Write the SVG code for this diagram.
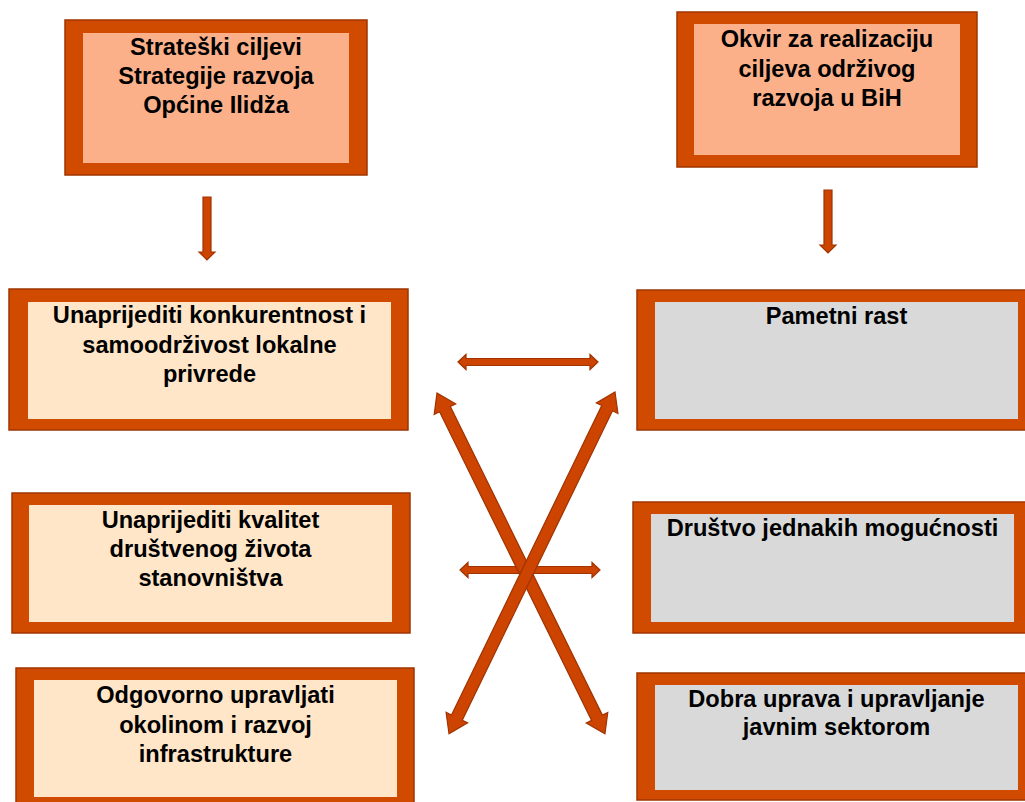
<svg xmlns="http://www.w3.org/2000/svg" width="1025" height="802" viewBox="0 0 1025 802">
<style>
.frame{fill:#D04A00;stroke:#A03600;stroke-width:1.5}
.peach{fill:#FBB08A}
.cream{fill:#FFE6C8}
.grey{fill:#D9D9D9}
.t{font-family:"Liberation Sans",Arial,sans-serif;font-weight:bold;font-size:23.6px;fill:#000;text-anchor:middle}
.arr{fill:#CC4400;stroke:#A03300;stroke-width:1.2;stroke-linejoin:miter}
</style>
<rect width="1025" height="802" fill="#fff"/>
<g id="node-top-left">
<rect class="frame" x="65" y="20" width="302" height="155"/>
<rect class="peach" x="83" y="33" width="266" height="130"/>
<text class="t" x="216" y="55">Strateški ciljevi</text>
<text class="t" x="216" y="84">Strategije razvoja</text>
<text class="t" x="216" y="113">Općine Ilidža</text>
</g>
<g id="node-top-right">
<rect class="frame" x="677" y="12" width="300" height="155"/>
<rect class="peach" x="694" y="24" width="266" height="131"/>
<text class="t" x="827" y="47">Okvir za realizaciju</text>
<text class="t" x="827" y="77">ciljeva održivog</text>
<text class="t" x="827" y="106">razvoja u BiH</text>
</g>
<g id="node-left-1">
<rect class="frame" x="9" y="289" width="399" height="141"/>
<rect class="cream" x="28" y="302" width="363" height="117"/>
<text class="t" x="209.5" y="323">Unaprijediti konkurentnost i</text>
<text class="t" x="209.5" y="353">samoodrživost lokalne</text>
<text class="t" x="209.5" y="382">privrede</text>
</g>
<g id="node-left-2">
<rect class="frame" x="12" y="493" width="398" height="140"/>
<rect class="cream" x="29" y="505" width="363" height="117"/>
<text class="t" x="210.5" y="528">Unaprijediti kvalitet</text>
<text class="t" x="210.5" y="557">društvenog života</text>
<text class="t" x="210.5" y="586">stanovništva</text>
</g>
<g id="node-left-3">
<rect class="frame" x="16" y="668" width="398" height="140"/>
<rect class="cream" x="34" y="680" width="363" height="117"/>
<text class="t" x="215.5" y="703">Odgovorno upravljati</text>
<text class="t" x="215.5" y="733">okolinom i razvoj</text>
<text class="t" x="215.5" y="762">infrastrukture</text>
</g>
<g id="node-right-1">
<rect class="frame" x="637" y="290" width="392" height="140"/>
<rect class="grey" x="655" y="302" width="363" height="117"/>
<text class="t" x="836.5" y="324">Pametni rast</text>
</g>
<g id="node-right-2">
<rect class="frame" x="633" y="502" width="396" height="131"/>
<rect class="grey" x="651" y="514" width="363" height="108"/>
<text class="t" x="832.5" y="536">Društvo jednakih mogućnosti</text>
</g>
<g id="node-right-3">
<rect class="frame" x="637" y="673" width="392" height="127"/>
<rect class="grey" x="655" y="685" width="363" height="105"/>
<text class="t" x="836.5" y="707">Dobra uprava i upravljanje</text>
<text class="t" x="836.5" y="735">javnim sektorom</text>
</g>
<g id="connectors">
<polygon class="arr" points="203,197 211,197 211,252 215,252 207,260 199,252 203,252"/>
<polygon class="arr" points="824,190 832,190 832,245 836,245 828,253 820,245 824,245"/>
<polygon class="arr" transform="translate(458,362)" points="0,0 8,-7.5 8,-3.5 132,-3.5 132,-7.5 140,0 132,7.5 132,3.5 8,3.5 8,7.5"/>
<polygon class="arr" transform="translate(460,570)" points="0,0 8,-7.5 8,-3.5 132,-3.5 132,-7.5 140,0 132,7.5 132,3.5 8,3.5 8,7.5"/>
<polygon class="arr" transform="translate(437,393) rotate(63.77)" points="0,0 18,-12 18,-6 362,-6 362,-12 380,0 362,12 362,6 18,6 18,12"/>
<polygon class="arr" transform="translate(615,392) rotate(115.9)" points="0,0 18,-12 18,-6 362,-6 362,-12 380,0 362,12 362,6 18,6 18,12"/>
</g>
</svg>
